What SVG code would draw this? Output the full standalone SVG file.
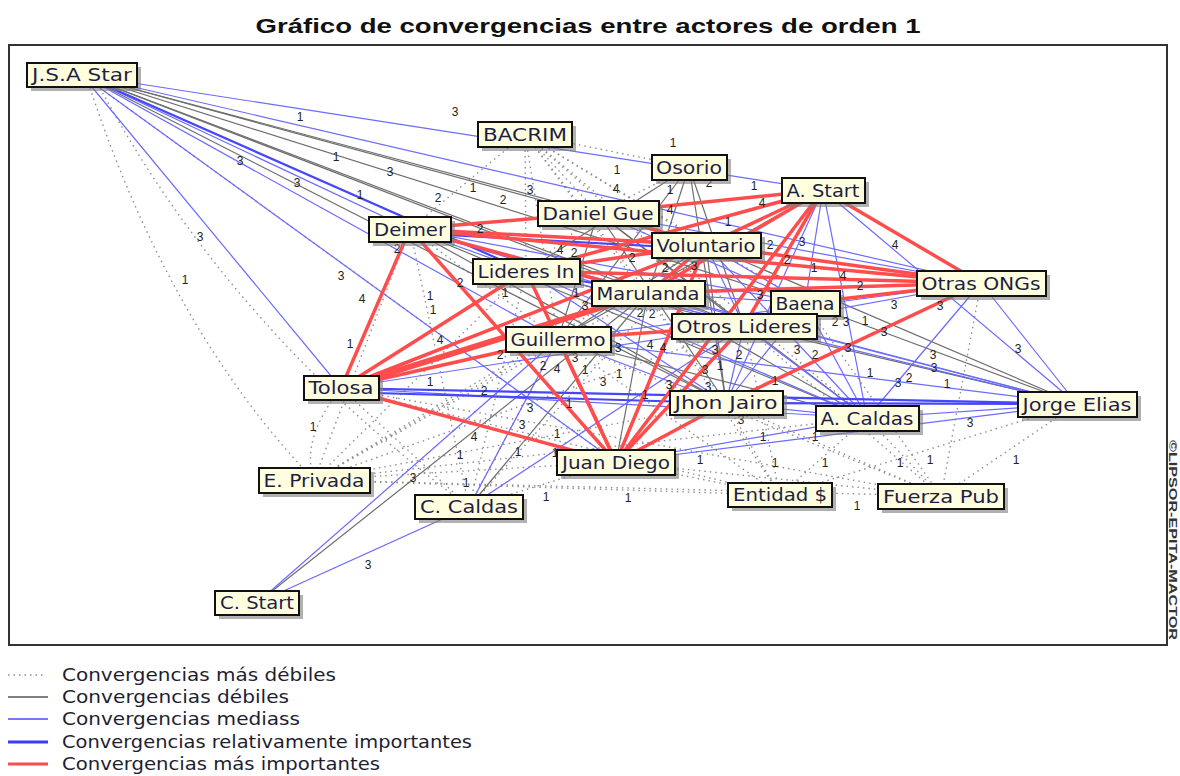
<svg xmlns="http://www.w3.org/2000/svg" width="1180" height="776" viewBox="0 0 1180 776">
<style>
.d{stroke:#8f8f8f;stroke-width:1.4;stroke-dasharray:1.5 4;fill:none}
.g{stroke:#6e6e6e;stroke-width:1.2;fill:none}
.b{stroke:#6a6aff;stroke-width:1.2;fill:none}
.B{stroke:#4646ff;stroke-width:2.2;fill:none}
.r{stroke:#ff4d4d;stroke-width:3.5;fill:none}
.R{stroke:#ff4d4d;stroke-width:6;fill:none}
.lb{font-family:"Liberation Sans",Arial,sans-serif;font-size:12px;fill:#222;text-anchor:middle}
.sh{fill:#7d7d7d;opacity:.6}
.box{fill:#ffffe0;stroke:#111;stroke-width:2}
.nt{font-family:"DejaVu Sans","Liberation Sans",sans-serif;font-size:17px;fill:#1e1e44;text-anchor:middle}
.lg{font-family:"DejaVu Sans","Liberation Sans",sans-serif;font-size:17px;fill:#1e1e30}
</style>
<rect width="1180" height="776" fill="#fff"/>
<text x="588" y="33" font-family="Liberation Sans,Arial,sans-serif" font-weight="bold" font-size="21" fill="#111" text-anchor="middle" textLength="665" lengthAdjust="spacingAndGlyphs">Gráfico de convergencias entre actores de orden 1</text>
<rect x="9" y="45" width="1158" height="600" fill="none" stroke="#333" stroke-width="2"/>
<text transform="translate(1169,440) rotate(90)" font-family="Liberation Sans,Arial,sans-serif" font-size="11" font-weight="bold" fill="#333" textLength="200" lengthAdjust="spacingAndGlyphs">©LIPSOR-EPITA-MACTOR</text>

<g id="connectors">
<path class="d" d="M90,88 Q170,330 314,480"/>
<path class="d" d="M100,88 Q230,330 469,507"/>
<path class="d" d="M341,388 Q300,440 314,480"/>
<line class="d" x1="82" y1="75" x2="616" y2="462"/>
<line class="d" x1="525" y1="134" x2="598" y2="213"/>
<line class="d" x1="525" y1="134" x2="706" y2="245"/>
<line class="d" x1="525" y1="134" x2="648" y2="293"/>
<line class="d" x1="525" y1="134" x2="744" y2="326"/>
<line class="d" x1="525" y1="134" x2="526" y2="271"/>
<line class="d" x1="525" y1="134" x2="558" y2="339"/>
<line class="d" x1="525" y1="134" x2="726" y2="403"/>
<line class="d" x1="525" y1="134" x2="689" y2="167"/>
<line class="d" x1="525" y1="134" x2="805" y2="303"/>
<line class="d" x1="525" y1="134" x2="867" y2="418"/>
<line class="d" x1="525" y1="134" x2="410" y2="229"/>
<line class="d" x1="689" y1="167" x2="598" y2="213"/>
<line class="d" x1="598" y1="213" x2="526" y2="271"/>
<line class="d" x1="410" y1="229" x2="558" y2="339"/>
<line class="d" x1="314" y1="480" x2="558" y2="339"/>
<line class="d" x1="314" y1="480" x2="648" y2="293"/>
<line class="d" x1="314" y1="480" x2="526" y2="271"/>
<line class="d" x1="314" y1="480" x2="410" y2="229"/>
<line class="d" x1="314" y1="480" x2="726" y2="403"/>
<line class="d" x1="314" y1="480" x2="867" y2="418"/>
<line class="d" x1="314" y1="480" x2="616" y2="462"/>
<line class="d" x1="314" y1="480" x2="706" y2="245"/>
<line class="d" x1="314" y1="480" x2="744" y2="326"/>
<line class="d" x1="314" y1="480" x2="941" y2="496"/>
<line class="d" x1="314" y1="480" x2="780" y2="495"/>
<line class="d" x1="780" y1="495" x2="616" y2="462"/>
<line class="d" x1="780" y1="495" x2="726" y2="403"/>
<line class="d" x1="780" y1="495" x2="867" y2="418"/>
<line class="d" x1="780" y1="495" x2="558" y2="339"/>
<line class="d" x1="780" y1="495" x2="341" y2="388"/>
<line class="d" x1="780" y1="495" x2="1077" y2="404"/>
<line class="d" x1="780" y1="495" x2="648" y2="293"/>
<line class="d" x1="780" y1="495" x2="744" y2="326"/>
<line class="d" x1="941" y1="496" x2="1077" y2="404"/>
<line class="d" x1="941" y1="496" x2="867" y2="418"/>
<line class="d" x1="941" y1="496" x2="726" y2="403"/>
<line class="d" x1="941" y1="496" x2="616" y2="462"/>
<line class="d" x1="941" y1="496" x2="744" y2="326"/>
<line class="d" x1="941" y1="496" x2="981" y2="283"/>
<line class="d" x1="941" y1="496" x2="341" y2="388"/>
<line class="d" x1="941" y1="496" x2="805" y2="303"/>
<line class="d" x1="941" y1="496" x2="558" y2="339"/>
<line class="d" x1="469" y1="507" x2="341" y2="388"/>
<line class="d" x1="469" y1="507" x2="558" y2="339"/>
<line class="d" x1="469" y1="507" x2="410" y2="229"/>
<line class="d" x1="469" y1="507" x2="616" y2="462"/>
<line class="d" x1="469" y1="507" x2="526" y2="271"/>
<line class="d" x1="469" y1="507" x2="706" y2="245"/>

<line class="g" x1="82" y1="75" x2="598" y2="213"/>
<line class="g" x1="82" y1="75" x2="706" y2="245"/>
<line class="g" x1="82" y1="75" x2="648" y2="293"/>
<line class="g" x1="82" y1="75" x2="744" y2="326"/>
<line class="g" x1="82" y1="75" x2="726" y2="403"/>
<line class="g" x1="82" y1="75" x2="805" y2="303"/>
<line class="g" x1="689" y1="167" x2="558" y2="339"/>
<line class="g" x1="689" y1="167" x2="648" y2="293"/>
<line class="g" x1="689" y1="167" x2="726" y2="403"/>
<line class="g" x1="689" y1="167" x2="526" y2="271"/>
<line class="g" x1="689" y1="167" x2="744" y2="326"/>
<line class="g" x1="598" y1="213" x2="726" y2="403"/>
<line class="g" x1="598" y1="213" x2="744" y2="326"/>
<line class="g" x1="598" y1="213" x2="558" y2="339"/>
<line class="g" x1="598" y1="213" x2="867" y2="418"/>
<line class="g" x1="706" y1="245" x2="726" y2="403"/>
<line class="g" x1="706" y1="245" x2="558" y2="339"/>
<line class="g" x1="706" y1="245" x2="616" y2="462"/>
<line class="g" x1="648" y1="293" x2="616" y2="462"/>
<line class="g" x1="648" y1="293" x2="867" y2="418"/>
<line class="g" x1="526" y1="271" x2="744" y2="326"/>
<line class="g" x1="805" y1="303" x2="1077" y2="404"/>
<line class="g" x1="744" y1="326" x2="1077" y2="404"/>
<line class="g" x1="706" y1="245" x2="1077" y2="404"/>
<line class="g" x1="410" y1="229" x2="867" y2="418"/>
<line class="g" x1="410" y1="229" x2="726" y2="403"/>
<line class="g" x1="257" y1="603" x2="648" y2="293"/>
<line class="g" x1="469" y1="507" x2="648" y2="293"/>
<line class="g" x1="558" y1="339" x2="867" y2="418"/>
<line class="g" x1="823" y1="190" x2="558" y2="339"/>

<line class="b" x1="82" y1="75" x2="823" y2="190"/>
<line class="b" x1="82" y1="75" x2="410" y2="229"/>
<line class="b" x1="82" y1="75" x2="981" y2="283"/>
<line class="b" x1="82" y1="75" x2="558" y2="339"/>
<line class="b" x1="82" y1="75" x2="341" y2="388"/>
<line class="b" x1="82" y1="75" x2="616" y2="462"/>
<line class="b" x1="823" y1="190" x2="805" y2="303"/>
<line class="b" x1="823" y1="190" x2="867" y2="418"/>
<line class="b" x1="823" y1="190" x2="726" y2="403"/>
<line class="b" x1="823" y1="190" x2="1077" y2="404"/>
<line class="b" x1="823" y1="190" x2="981" y2="283"/>
<line class="b" x1="823" y1="190" x2="648" y2="293"/>
<line class="b" x1="981" y1="283" x2="867" y2="418"/>
<line class="b" x1="981" y1="283" x2="726" y2="403"/>
<line class="b" x1="981" y1="283" x2="1077" y2="404"/>
<line class="b" x1="981" y1="283" x2="744" y2="326"/>
<line class="b" x1="981" y1="283" x2="558" y2="339"/>
<line class="b" x1="1077" y1="404" x2="867" y2="418"/>
<line class="b" x1="1077" y1="404" x2="616" y2="462"/>
<line class="b" x1="1077" y1="404" x2="648" y2="293"/>
<line class="b" x1="1077" y1="404" x2="526" y2="271"/>
<line class="b" x1="1077" y1="404" x2="558" y2="339"/>
<line class="b" x1="1077" y1="404" x2="410" y2="229"/>
<line class="b" x1="341" y1="388" x2="867" y2="418"/>
<line class="b" x1="341" y1="388" x2="744" y2="326"/>
<line class="b" x1="616" y1="462" x2="867" y2="418"/>
<line class="b" x1="257" y1="603" x2="469" y2="507"/>
<line class="b" x1="257" y1="603" x2="558" y2="339"/>
<line class="b" x1="469" y1="507" x2="558" y2="339"/>
<line class="b" x1="469" y1="507" x2="744" y2="326"/>
<line class="b" x1="744" y1="326" x2="726" y2="403"/>
<line class="b" x1="744" y1="326" x2="867" y2="418"/>
<line class="b" x1="805" y1="303" x2="867" y2="418"/>
<line class="b" x1="805" y1="303" x2="726" y2="403"/>
<line class="b" x1="558" y1="339" x2="726" y2="403"/>
<line class="b" x1="526" y1="271" x2="726" y2="403"/>
<line class="b" x1="526" y1="271" x2="867" y2="418"/>
<line class="b" x1="410" y1="229" x2="805" y2="303"/>
<line class="b" x1="410" y1="229" x2="744" y2="326"/>
<line class="b" x1="410" y1="229" x2="526" y2="271"/>
<line class="b" x1="706" y1="245" x2="867" y2="418"/>
<line class="b" x1="706" y1="245" x2="744" y2="326"/>
<line class="b" x1="706" y1="245" x2="805" y2="303"/>
<line class="b" x1="726" y1="403" x2="867" y2="418"/>
<line class="b" x1="598" y1="213" x2="981" y2="283"/>
<line class="b" x1="598" y1="213" x2="805" y2="303"/>
<line class="b" x1="648" y1="293" x2="805" y2="303"/>
<line class="b" x1="648" y1="293" x2="744" y2="326"/>

<line class="B" x1="82" y1="75" x2="526" y2="271"/>
<line class="B" x1="341" y1="388" x2="1077" y2="404"/>
<line class="B" x1="341" y1="392" x2="726" y2="403"/>
<line class="B" x1="726" y1="403" x2="1077" y2="404"/>
<line class="B" x1="410" y1="233" x2="706" y2="249"/>
<line class="B" x1="526" y1="271" x2="648" y2="293"/>

<line class="r" x1="410" y1="229" x2="598" y2="213"/>
<line class="r" x1="410" y1="229" x2="706" y2="245"/>
<line class="r" x1="410" y1="229" x2="648" y2="293"/>
<line class="r" x1="410" y1="229" x2="341" y2="388"/>
<line class="r" x1="410" y1="229" x2="616" y2="462"/>
<line class="r" x1="410" y1="229" x2="981" y2="283"/>
<line class="r" x1="526" y1="271" x2="706" y2="245"/>
<line class="r" x1="526" y1="271" x2="823" y2="190"/>
<line class="r" x1="526" y1="271" x2="981" y2="283"/>
<line class="r" x1="526" y1="271" x2="616" y2="462"/>
<line class="R" x1="341" y1="388" x2="648" y2="293"/>
<line class="r" x1="341" y1="388" x2="706" y2="245"/>
<line class="r" x1="341" y1="388" x2="526" y2="271"/>
<line class="r" x1="341" y1="388" x2="558" y2="339"/>
<line class="r" x1="341" y1="388" x2="616" y2="462"/>
<line class="r" x1="558" y1="339" x2="744" y2="326"/>
<line class="r" x1="616" y1="462" x2="744" y2="326"/>
<line class="r" x1="616" y1="462" x2="706" y2="245"/>
<line class="r" x1="616" y1="462" x2="823" y2="190"/>
<line class="r" x1="616" y1="462" x2="726" y2="403"/>
<line class="r" x1="616" y1="462" x2="558" y2="339"/>
<line class="r" x1="823" y1="190" x2="598" y2="213"/>
<line class="r" x1="823" y1="190" x2="706" y2="245"/>
<line class="r" x1="823" y1="190" x2="648" y2="293"/>
<line class="r" x1="823" y1="190" x2="981" y2="283"/>
<line class="r" x1="823" y1="190" x2="744" y2="326"/>
<line class="r" x1="981" y1="283" x2="706" y2="245"/>
<line class="r" x1="981" y1="283" x2="805" y2="303"/>
<line class="r" x1="981" y1="283" x2="726" y2="403"/>
<line class="r" x1="981" y1="283" x2="648" y2="293"/>
<line class="r" x1="706" y1="245" x2="648" y2="293"/>
<line class="r" x1="598" y1="213" x2="706" y2="245"/>
</g>

<g id="edge-labels" class="lb">
<text x="455" y="116">3</text><text x="300" y="121">1</text><text x="673" y="147">1</text><text x="240" y="165">3</text>
<text x="336" y="161">1</text><text x="390" y="176">3</text><text x="297" y="187">3</text><text x="360" y="199">1</text>
<text x="438" y="202">2</text><text x="473" y="192">1</text><text x="503" y="204">2</text><text x="530" y="194">3</text>
<text x="617" y="174">1</text><text x="616" y="193">4</text><text x="670" y="194">1</text><text x="709" y="187">2</text>
<text x="754" y="190">1</text><text x="762" y="207">4</text><text x="670" y="214">4</text><text x="480" y="233">2</text>
<text x="200" y="241">3</text><text x="728" y="226">1</text><text x="397" y="253">2</text><text x="560" y="254">4</text>
<text x="574" y="257">2</text><text x="632" y="262">2</text><text x="770" y="249">2</text><text x="802" y="246">3</text>
<text x="185" y="284">1</text><text x="341" y="280">3</text><text x="362" y="303">4</text><text x="460" y="287">2</text>
<text x="430" y="300">1</text><text x="433" y="314">1</text><text x="440" y="344">4</text><text x="350" y="348">1</text>
<text x="505" y="297">1</text><text x="576" y="297">1</text><text x="585" y="310">3</text><text x="640" y="317">2</text>
<text x="652" y="318">2</text><text x="665" y="272">2</text><text x="694" y="270">3</text><text x="787" y="264">2</text>
<text x="814" y="272">1</text><text x="843" y="280">4</text><text x="860" y="290">2</text><text x="895" y="249">4</text>
<text x="894" y="309">3</text><text x="940" y="310">3</text><text x="700" y="300">1</text><text x="760" y="299">3</text>
<text x="835" y="326">2</text><text x="846" y="326">3</text><text x="865" y="325">1</text><text x="884" y="336">3</text>
<text x="848" y="352">3</text><text x="797" y="354">3</text><text x="815" y="359">2</text><text x="739" y="359">2</text>
<text x="715" y="354">3</text><text x="720" y="370">1</text><text x="705" y="374">3</text><text x="650" y="349">4</text>
<text x="663" y="352">4</text><text x="618" y="352">3</text><text x="585" y="374">1</text><text x="603" y="386">3</text>
<text x="619" y="378">1</text><text x="645" y="399">1</text><text x="669" y="389">3</text><text x="708" y="391">3</text>
<text x="741" y="424">3</text><text x="763" y="441">1</text><text x="815" y="441">1</text><text x="870" y="377">1</text>
<text x="898" y="387">3</text><text x="909" y="382">2</text><text x="933" y="359">3</text><text x="934" y="372">3</text>
<text x="947" y="388">1</text><text x="1018" y="353">3</text><text x="970" y="427">3</text><text x="1016" y="464">1</text>
<text x="930" y="464">1</text><text x="900" y="467">1</text><text x="825" y="467">1</text><text x="775" y="467">1</text>
<text x="700" y="464">1</text><text x="628" y="502">1</text><text x="546" y="501">1</text><text x="857" y="510">1</text>
<text x="313" y="431">1</text><text x="430" y="386">1</text><text x="484" y="395">2</text><text x="474" y="441">4</text>
<text x="530" y="412">3</text><text x="522" y="429">3</text><text x="460" y="459">1</text><text x="518" y="456">1</text>
<text x="555" y="457">1</text><text x="413" y="482">3</text><text x="466" y="487">1</text><text x="368" y="569">3</text>
<text x="543" y="370">2</text><text x="557" y="373">4</text><text x="575" y="362">3</text><text x="569" y="408">1</text>
<text x="557" y="438">1</text><text x="500" y="359">2</text><text x="775" y="385">1</text>
</g>

<g id="n-jsa"><rect class="sh" x="31" y="67" width="110" height="24"/><rect class="box" x="27" y="63" width="110" height="24"/><text class="nt" x="82" y="81" textLength="100" lengthAdjust="spacingAndGlyphs">J.S.A Star</text></g>
<g id="n-bacrim"><rect class="sh" x="482" y="126" width="94" height="25"/><rect class="box" x="478" y="122" width="94" height="25"/><text class="nt" x="525" y="141" textLength="84" lengthAdjust="spacingAndGlyphs">BACRIM</text></g>
<g id="n-osorio"><rect class="sh" x="656" y="159" width="75" height="25"/><rect class="box" x="652" y="155" width="75" height="25"/><text class="nt" x="689" y="174" textLength="66" lengthAdjust="spacingAndGlyphs">Osorio</text></g>
<g id="n-astart"><rect class="sh" x="786" y="182" width="83" height="25"/><rect class="box" x="782" y="178" width="83" height="25"/><text class="nt" x="823" y="197" textLength="73" lengthAdjust="spacingAndGlyphs">A. Start</text></g>
<g id="n-danielgue"><rect class="sh" x="542" y="205" width="121" height="25"/><rect class="box" x="538" y="201" width="121" height="25"/><text class="nt" x="598" y="220" textLength="111" lengthAdjust="spacingAndGlyphs">Daniel Gue</text></g>
<g id="n-deimer"><rect class="sh" x="373" y="221" width="82" height="25"/><rect class="box" x="369" y="217" width="82" height="25"/><text class="nt" x="410" y="236" textLength="72" lengthAdjust="spacingAndGlyphs">Deimer</text></g>
<g id="n-voluntario"><rect class="sh" x="656" y="237" width="109" height="25"/><rect class="box" x="652" y="233" width="109" height="25"/><text class="nt" x="706" y="252" textLength="99" lengthAdjust="spacingAndGlyphs">Voluntario</text></g>
<g id="n-lideresin"><rect class="sh" x="477" y="263" width="107" height="25"/><rect class="box" x="473" y="259" width="107" height="25"/><text class="nt" x="526" y="278" textLength="97" lengthAdjust="spacingAndGlyphs">Lideres In</text></g>
<g id="n-otrasongs"><rect class="sh" x="921" y="275" width="129" height="25"/><rect class="box" x="917" y="271" width="129" height="25"/><text class="nt" x="981" y="290" textLength="119" lengthAdjust="spacingAndGlyphs">Otras ONGs</text></g>
<g id="n-marulanda"><rect class="sh" x="596" y="285" width="113" height="25"/><rect class="box" x="592" y="281" width="113" height="25"/><text class="nt" x="648" y="300" textLength="103" lengthAdjust="spacingAndGlyphs">Marulanda</text></g>
<g id="n-baena"><rect class="sh" x="775" y="295" width="69" height="25"/><rect class="box" x="771" y="291" width="69" height="25"/><text class="nt" x="805" y="310" textLength="59" lengthAdjust="spacingAndGlyphs">Baena</text></g>
<g id="n-otroslideres"><rect class="sh" x="676" y="318" width="145" height="25"/><rect class="box" x="672" y="314" width="145" height="25"/><text class="nt" x="744" y="333" textLength="135" lengthAdjust="spacingAndGlyphs">Otros Lideres</text></g>
<g id="n-guillermo"><rect class="sh" x="510" y="331" width="105" height="25"/><rect class="box" x="506" y="327" width="105" height="25"/><text class="nt" x="558" y="346" textLength="95" lengthAdjust="spacingAndGlyphs">Guillermo</text></g>
<g id="n-tolosa"><rect class="sh" x="308" y="380" width="75" height="24"/><rect class="box" x="304" y="376" width="75" height="24"/><text class="nt" x="341" y="394" textLength="65" lengthAdjust="spacingAndGlyphs">Tolosa</text></g>
<g id="n-jhonjairo"><rect class="sh" x="674" y="395" width="113" height="24"/><rect class="box" x="670" y="391" width="113" height="24"/><text class="nt" x="726" y="409" textLength="103" lengthAdjust="spacingAndGlyphs">Jhon Jairo</text></g>
<g id="n-jorgeelias"><rect class="sh" x="1022" y="396" width="119" height="25"/><rect class="box" x="1018" y="392" width="119" height="25"/><text class="nt" x="1077" y="411" textLength="109" lengthAdjust="spacingAndGlyphs">Jorge Elias</text></g>
<g id="n-acaldas"><rect class="sh" x="820" y="410" width="103" height="25"/><rect class="box" x="816" y="406" width="103" height="25"/><text class="nt" x="867" y="425" textLength="93" lengthAdjust="spacingAndGlyphs">A. Caldas</text></g>
<g id="n-juandiego"><rect class="sh" x="561" y="454" width="118" height="25"/><rect class="box" x="557" y="450" width="118" height="25"/><text class="nt" x="616" y="469" textLength="108" lengthAdjust="spacingAndGlyphs">Juan Diego</text></g>
<g id="n-eprivada"><rect class="sh" x="263" y="472" width="111" height="25"/><rect class="box" x="259" y="468" width="111" height="25"/><text class="nt" x="314" y="487" textLength="101" lengthAdjust="spacingAndGlyphs">E. Privada</text></g>
<g id="n-entidad"><rect class="sh" x="732" y="487" width="104" height="24"/><rect class="box" x="728" y="483" width="104" height="24"/><text class="nt" x="780" y="501" textLength="94" lengthAdjust="spacingAndGlyphs">Entidad $</text></g>
<g id="n-fuerzapub"><rect class="sh" x="882" y="488" width="126" height="25"/><rect class="box" x="878" y="484" width="126" height="25"/><text class="nt" x="941" y="503" textLength="116" lengthAdjust="spacingAndGlyphs">Fuerza Pub</text></g>
<g id="n-ccaldas"><rect class="sh" x="419" y="499" width="108" height="24"/><rect class="box" x="415" y="495" width="108" height="24"/><text class="nt" x="469" y="513" textLength="98" lengthAdjust="spacingAndGlyphs">C. Caldas</text></g>
<g id="n-cstart"><rect class="sh" x="219" y="595" width="84" height="24"/><rect class="box" x="215" y="591" width="84" height="24"/><text class="nt" x="257" y="609" textLength="74" lengthAdjust="spacingAndGlyphs">C. Start</text></g>

<g id="legend">
<line class="d" x1="8" y1="675" x2="46" y2="675"/>
<line x1="8" y1="697" x2="48" y2="697" stroke="#555" stroke-width="1.3"/>
<line x1="8" y1="719" x2="48" y2="719" stroke="#4a4aff" stroke-width="1.5"/>
<line x1="8" y1="742" x2="48" y2="742" stroke="#3a3aff" stroke-width="3"/>
<line x1="8" y1="764" x2="48" y2="764" stroke="#ff4d4d" stroke-width="3"/>
<text class="lg" x="62" y="681" textLength="274" lengthAdjust="spacingAndGlyphs">Convergencias más débiles</text>
<text class="lg" x="62" y="703" textLength="227" lengthAdjust="spacingAndGlyphs">Convergencias débiles</text>
<text class="lg" x="62" y="725" textLength="238" lengthAdjust="spacingAndGlyphs">Convergencias mediass</text>
<text class="lg" x="62" y="748" textLength="410" lengthAdjust="spacingAndGlyphs">Convergencias relativamente importantes</text>
<text class="lg" x="62" y="770" textLength="318" lengthAdjust="spacingAndGlyphs">Convergencias más importantes</text>
</g>
</svg>
